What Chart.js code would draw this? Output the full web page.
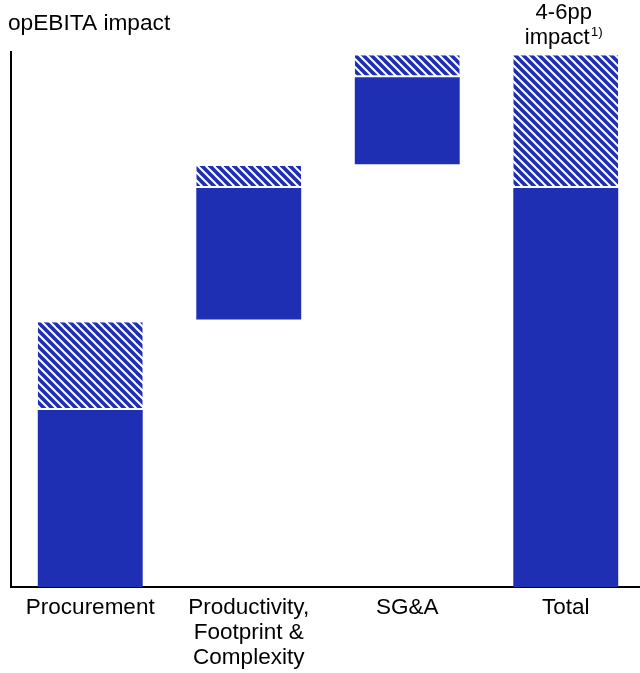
<!DOCTYPE html>
<html>
<head>
<meta charset="utf-8">
<script src="https://cdn.jsdelivr.net/npm/chart.js@4/dist/chart.umd.min.js"></script>
<style>
html,body{margin:0;padding:0;background:#fff;overflow:hidden;}
#wrap{position:relative;width:645px;height:673px;}
</style>
</head>
<body>
<div id="wrap"><canvas id="c" width="645" height="673"></canvas></div>
<script>
// ---- data ----
const categories = [["Procurement"], ["Productivity,", "Footprint &", "Complexity"], ["SG&A"], ["Total"]];
const solidStart = [0, 50, 79, 0];
const solidEnd   = [33.1, 74.6, 95.3, 74.6];
const hatchStart = [33.1, 74.6, 95.3, 74.6];
const hatchEnd   = [49.5, 78.7, 99.4, 99.4];
const yMax = 100;
const titleText = "opEBITA impact";
const totalNoteLines = ["4-6pp", "impact"];
const totalNoteSup = "1)";

const BLUE = "#1F2FB3";
const FONT = "'Liberation Sans', Arial, sans-serif";

function makeHatch() {
  const s = 8;
  const p = document.createElement('canvas');
  p.width = s; p.height = s;
  const g = p.getContext('2d');
  g.fillStyle = BLUE;
  g.fillRect(0, 0, s, s);
  g.strokeStyle = '#ffffff';
  g.lineWidth = 2.0;
  for (let k = -2; k <= 2; k++) {
    g.beginPath();
    g.moveTo(k * s - 2, -2);
    g.lineTo(k * s + s + 2, s + 2);
    g.stroke();
  }
  return document.getElementById('c').getContext('2d').createPattern(p, 'repeat');
}

const annot = {
  id: 'annot',
  afterDraw(chart) {
    const ctx = chart.ctx;
    ctx.save();
    ctx.fillStyle = '#000';
    ctx.textBaseline = 'alphabetic';
    ctx.font = '22.7px ' + FONT;
    ctx.textAlign = 'left';
    ctx.fillText(titleText, 8, 30);
    // total note
    const xs = chart.scales.x;
    const cx = xs.getPixelForValue(3) - 2;
    ctx.textAlign = 'center';
    ctx.font = '22px ' + FONT;
    ctx.fillText(totalNoteLines[0], cx, 19);
    const w1 = ctx.measureText(totalNoteLines[1]).width;
    ctx.font = '13.5px ' + FONT;
    const w2 = ctx.measureText(totalNoteSup).width;
    const left = cx - (w1 + w2 + 1) / 2;
    ctx.textAlign = 'left';
    ctx.font = '22px ' + FONT;
    ctx.fillText(totalNoteLines[1], left, 44);
    ctx.font = '13.5px ' + FONT;
    ctx.fillText(totalNoteSup, left + w1 + 1, 36);
    ctx.restore();
  }
};

const hatch = makeHatch();
new Chart(document.getElementById('c'), {
  type: 'bar',
  data: {
    labels: categories,
    datasets: [
      {
        label: 'base',
        data: solidStart.map((s, i) => [s, solidEnd[i]]),
        backgroundColor: BLUE,
        borderWidth: 0,
        barPercentage: 0.662,
        categoryPercentage: 1.0,
        grouped: false
      },
      {
        label: 'range',
        data: hatchStart.map((s, i) => [s, hatchEnd[i]]),
        backgroundColor: hatch,
        borderColor: '#ffffff',
        borderWidth: {bottom: 2, top: 0, left: 0, right: 0},
        borderSkipped: false,
        barPercentage: 0.662,
        categoryPercentage: 1.0,
        grouped: false
      }
    ]
  },
  options: {
    responsive: false,
    animation: false,
    events: [],
    layout: {padding: {top: 52, left: 0, right: 0, bottom: 0}},
    plugins: {legend: {display: false}, tooltip: {enabled: false}, title: {display: false}},
    scales: {
      x: {
        grid: {display: false, drawTicks: false},
        border: {display: true, color: '#000', width: 2},
        ticks: {color: '#000', font: {family: FONT, size: 22.5, lineHeight: 1.11}, padding: 8, maxRotation: 0, autoSkip: false},
        afterFit(s) { s.height = 86; }
      },
      y: {
        min: 0, max: yMax,
        grid: {display: false, drawTicks: false},
        border: {display: true, color: '#000', width: 2},
        ticks: {display: false},
        afterFit(s) { s.width = 11; }
      }
    }
  },
  plugins: [annot]
});
</script>
</body>
</html>
